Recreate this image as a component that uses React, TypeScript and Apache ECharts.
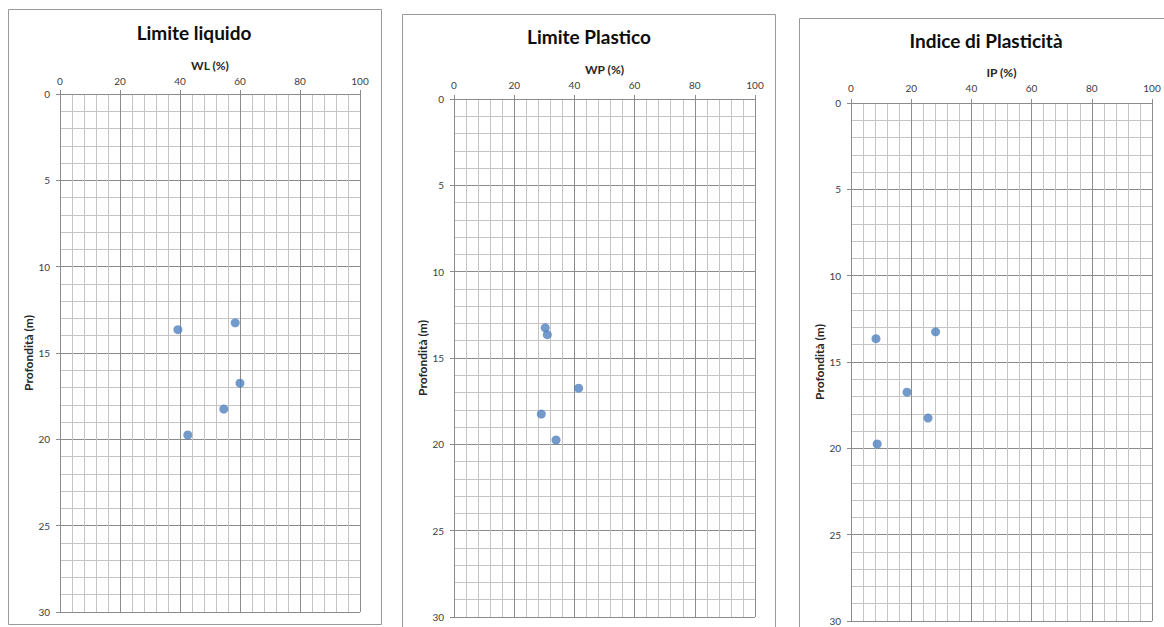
import React, { useEffect, useRef } from "react";
import * as echarts from "echarts";

// Sample depths (m) shared by the three profiles
const depths = [13.25, 13.65, 16.75, 18.25, 19.75];
// Liquid limit WL (%)
const wl = [58.4, 39.3, 60.0, 54.6, 42.6];
// Plastic limit WP (%)
const wp = [30.3, 31.0, 41.4, 29.0, 33.9];
// Plasticity index IP (%)
const ip = [28.1, 8.3, 18.6, 25.6, 8.7];

const titles = ["Limite liquido", "Limite Plastico", "Indice di Plasticità"];
const xNames = ["WL (%)", "WP (%)", "IP (%)"];
const yName = "Profondità (m)";

const FONT = "Lato, 'Open Sans', sans-serif";
const MAJOR = "#8C8C8C";
const MINOR = "#C4C4C4";
const MARKER = "#4F81BD";

// Layout of each panel: frame and plot area
const panels = [
  { frame: [8.5, 9.5, 373, 615], grid: [60, 94, 300, 518], title: [194, 32], labelMargin: 8, nameGap: 21, yNameGap: 23 },
  { frame: [402.5, 14.5, 373, 700], grid: [454, 99, 301, 518], title: [589, 36], labelMargin: 9, nameGap: 22, yNameGap: 24 },
  { frame: [799.5, 18.5, 420, 700], grid: [851, 103, 301, 518], title: [986, 40], labelMargin: 10, nameGap: 24, yNameGap: 23 },
];

export default function App() {
  const ref = useRef<HTMLDivElement>(null);

  useEffect(() => {
    if (!ref.current) return;
    const chart = echarts.init(ref.current, null, { renderer: "svg" });
    const seriesValues = [wl, wp, ip];

    const option: any = {
      animation: false,
      backgroundColor: "#ffffff",
      textStyle: { fontFamily: FONT },
      grid: panels.map((p) => ({
        left: p.grid[0],
        top: p.grid[1],
        width: p.grid[2],
        height: p.grid[3],
        containLabel: false,
      })),
      xAxis: panels.map((p, i) => ({
        type: "value",
        gridIndex: i,
        position: "top",
        min: 0,
        max: 100,
        interval: 20,
        name: xNames[i],
        nameLocation: "middle",
        nameGap: p.nameGap,
        nameTextStyle: { fontFamily: FONT, fontSize: 12, fontWeight: "bold", color: "#262626" },
        axisLine: { show: true, lineStyle: { color: MAJOR, width: 1 } },
        axisTick: { show: true, length: 4, lineStyle: { color: MAJOR } },
        axisLabel: { fontFamily: FONT, fontSize: 10, color: "#404040", margin: p.labelMargin },
        splitLine: { show: true, lineStyle: { color: MAJOR, width: 1 } },
        minorTick: { show: false, splitNumber: 5 },
        minorSplitLine: { show: true, lineStyle: { color: MINOR, width: 1 } },
      })),
      yAxis: panels.map((p, i) => ({
        type: "value",
        gridIndex: i,
        inverse: true,
        min: 0,
        max: 30,
        interval: 5,
        name: yName,
        nameLocation: "middle",
        nameRotate: 90,
        nameGap: p.yNameGap,
        nameTextStyle: { fontFamily: FONT, fontSize: 12, fontWeight: "bold", color: "#262626" },
        axisLine: { show: true, lineStyle: { color: MAJOR, width: 1 } },
        axisTick: { show: true, length: 4, lineStyle: { color: MAJOR } },
        axisLabel: { fontFamily: FONT, fontSize: 10, color: "#404040", margin: 10 },
        splitLine: { show: true, lineStyle: { color: MAJOR, width: 1 } },
        minorTick: { show: false, splitNumber: 5 },
        minorSplitLine: { show: true, lineStyle: { color: MINOR, width: 1 } },
      })),
      series: seriesValues.map((vals, i) => ({
        type: "scatter",
        xAxisIndex: i,
        yAxisIndex: i,
        symbol: "circle",
        symbolSize: 9,
        itemStyle: { color: MARKER },
        data: vals.map((v, k) => [v, depths[k]]),
      })),
      graphic: [
        ...panels.map((p) => ({
          type: "rect",
          z: -10,
          silent: true,
          shape: { x: p.frame[0], y: p.frame[1], width: p.frame[2], height: p.frame[3] },
          style: { fill: "none", stroke: "#9A9A9A", lineWidth: 1 },
        })),
        ...panels.map((p, i) => ({
          type: "text",
          silent: true,
          x: p.title[0],
          y: p.title[1],
          style: {
            text: titles[i],
            fontFamily: FONT,
            fontSize: 19,
            fontWeight: "bold",
            fill: "#0D0D0D",
            align: "center",
            verticalAlign: "middle",
          },
        })),
      ],
    };

    chart.setOption(option);
    return () => chart.dispose();
  }, []);

  return (
    <div
      ref={ref}
      style={{ position: "fixed", left: 0, top: 0, width: 1164, height: 627 }}
    />
  );
}
